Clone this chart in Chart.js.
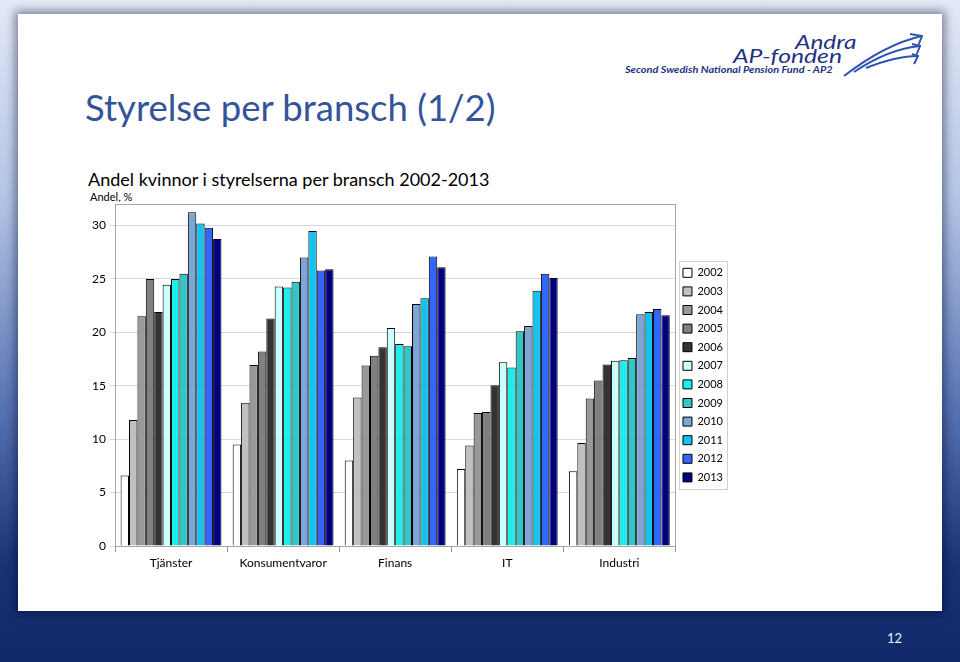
<!DOCTYPE html>
<html>
<head>
<meta charset="utf-8">
<script src="https://cdn.jsdelivr.net/npm/chart.js@4.4.1/dist/chart.umd.min.js"></script>
<style>
  html, body { margin: 0; padding: 0; }
  body {
    width: 960px; height: 662px; overflow: hidden; position: relative;
    font-family: Lato, "Open Sans", sans-serif;
    background: linear-gradient(180deg, #e3e9f6 0%, #b4c5e6 30%, #5572b2 62%, #1a3574 85%, #10286a 100%);
  }
  #slide {
    position: absolute; left: 18px; top: 14px; width: 924px; height: 597px;
    background: #fff; box-shadow: 0 0 9px 3px rgba(0, 0, 40, 0.45);
  }
  #title { position: absolute; left: 85px; top: 85px; font-size: 36.5px; color: #34539b; white-space: nowrap; }
  #ctitle { position: absolute; left: 88px; top: 168px; font-size: 18px; color: #000; white-space: nowrap; }
  #unit { position: absolute; left: 90px; top: 190px; font-size: 11px; color: #000; }
  .logo { position: absolute; font-style: italic; color: #1c3282; white-space: nowrap; transform-origin: left top; }
  #logo1 { left: 795px; top: 29px; font-size: 20px; transform: scaleX(1.22); }
  #logo2 { left: 733px; top: 44px; font-size: 19px; transform: scaleX(1.3); }
  #logo3 { left: 625px; top: 64px; font-size: 9.5px; font-weight: bold; transform: scaleX(1.15); }
  #page { position: absolute; left: 887px; top: 630px; font-size: 13px; color: #e8eefa; }
  #wrap { position: absolute; left: 86px; top: 193px; width: 655px; height: 387px; }
</style>
</head>
<body>
<div id="slide"></div>
<div id="title">Styrelse per bransch (1/2)</div>
<div class="logo" id="logo1">Andra</div>
<div class="logo" id="logo2">AP-fonden</div>
<div class="logo" id="logo3">Second Swedish National Pension Fund - AP2</div>
<svg style="position:absolute;left:840px;top:32px" width="86" height="46" viewBox="0 0 86 46">
  <path d="M4 44 C30 24 55 10 82 4" stroke="#2f54b0" stroke-width="2" fill="none"/>
  <path d="M14 40 C38 24 58 16 80 14" stroke="#2f54b0" stroke-width="2" fill="none"/>
  <path d="M26 36 C46 28 62 24 78 24" stroke="#2f54b0" stroke-width="2" fill="none"/>
  <path d="M70 2 L82 4 L78 14 M72 12 L80 14 L76 24 M72 22 L78 24 L74 32" stroke="#2f54b0" stroke-width="2" fill="none"/>
</svg>
<div id="ctitle">Andel kvinnor i styrelserna per bransch 2002-2013</div>
<div id="unit">Andel, %</div>
<div id="page">12</div>
<div id="wrap"><canvas id="chart"></canvas></div>

<script>
// Kategorier och år
const categories = ['Tjänster', 'Konsumentvaror', 'Finans', 'IT', 'Industri'];
const years = ['2002', '2003', '2004', '2005', '2006', '2007', '2008', '2009', '2010', '2011', '2012', '2013'];
const yTicks = [0, 5, 10, 15, 20, 25, 30];

// Andel kvinnor (%) per bransch, år 2002-2013
const tjanster       = [6.6, 11.8, 21.5, 25.0, 21.9, 24.45, 25.0, 25.5, 31.25, 30.2, 29.8, 28.75];
const konsumentvaror = [9.5, 13.4, 16.95, 18.2, 21.3, 24.3, 24.2, 24.75, 27.0, 29.5, 25.8, 25.9];
const finans         = [8.0, 13.9, 16.9, 17.8, 18.6, 20.4, 18.9, 18.7, 22.65, 23.2, 27.1, 26.1];
const it             = [7.2, 9.4, 12.45, 12.55, 15.05, 17.2, 16.7, 20.1, 20.6, 23.9, 25.5, 25.1];
const industri       = [7.0, 9.65, 13.8, 15.5, 17.0, 17.35, 17.4, 17.6, 21.7, 21.9, 22.2, 21.6];

const yearColors = ['#ffffff', '#c0c0c0', '#999999', '#808080', '#333333', '#ccffff',
                    '#18f0f0', '#33c6c6', '#7ba6d6', '#12c2f0', '#3366ff', '#000080'];

const perCategory = [tjanster, konsumentvaror, finans, it, industri];

const datasets = years.map((y, i) => ({
  label: y,
  data: perCategory.map(c => c[i]),
  backgroundColor: yearColors[i],
  borderColor: '#000000',
  borderWidth: 1
}));

// ram runt ritytan och förklaringen
const frames = {
  id: 'frames',
  afterDraw(chart) {
    const ctx = chart.ctx;
    const a = chart.chartArea;
    ctx.save();
    ctx.strokeStyle = '#a6a6a6';
    ctx.lineWidth = 1;
    ctx.strokeRect(Math.round(a.left) + 0.5, Math.round(a.top) + 0.5, Math.round(a.right - a.left), Math.round(a.bottom - a.top));
    const hb = chart.legend.legendHitBoxes;
    if (hb && hb.length) {
      const l = Math.min(...hb.map(b => b.left)) - 4;
      const t = Math.min(...hb.map(b => b.top)) - 6;
      const r = Math.max(...hb.map(b => b.left + b.width)) + 4;
      const bt = Math.max(...hb.map(b => b.top + b.height)) + 6;
      ctx.strokeStyle = '#d0d0d0';
      ctx.strokeRect(Math.round(l) + 0.5, Math.round(t) + 0.5, Math.round(r - l), Math.round(bt - t));
    }
    ctx.restore();
  }
};

new Chart(document.getElementById('chart'), {
  type: 'bar',
  data: { labels: categories, datasets: datasets },
  plugins: [frames],
  options: {
    responsive: true,
    maintainAspectRatio: false,
    animation: false,
    layout: { padding: { top: 4, right: 8 } },
    datasets: { bar: { categoryPercentage: 0.9, barPercentage: 1.0 } },
    plugins: {
      title: { display: false },
      tooltip: { enabled: false },
      legend: {
        position: 'right',
        fullSize: false,
        labels: {
          boxWidth: 9, boxHeight: 9, padding: 7.6,
          color: '#000', font: { family: 'Lato', size: 11 }
        }
      }
    },
    scales: {
      x: {
        grid: { drawOnChartArea: false, offset: true, tickLength: 6, color: '#999' },
        border: { color: '#999' },
        ticks: { color: '#000', font: { family: 'Lato', size: 12 }, padding: 4 },
        afterFit(s) { s.height = 34; }
      },
      y: {
        min: 0, max: 32,
        afterBuildTicks(s) { s.ticks = yTicks.map(v => ({ value: v })); },
        grid: { color: '#d9d9d9', tickLength: 5 },
        border: { color: '#999' },
        ticks: { color: '#000', font: { family: 'Lato', size: 12 }, padding: 4 },
        afterFit(s) { s.width = 29; }
      }
    }
  }
});
</script>
</body>
</html>
